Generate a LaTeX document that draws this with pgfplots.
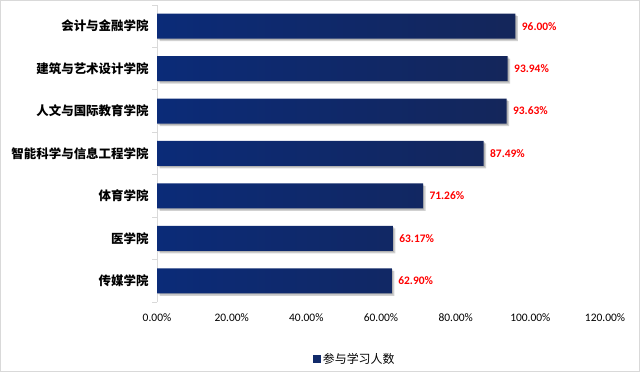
\documentclass[border=0pt]{standalone}
\usepackage{fontspec}
\usepackage{pgfplots}
\pgfplotsset{compat=1.18}
\setmainfont{Carlito}
\newfontfamily\cjk{Noto Sans CJK SC}
\definecolor{barL}{HTML}{0B2B78}
\definecolor{barR}{HTML}{14265A}
\definecolor{legnavy}{HTML}{112A6A}
\definecolor{bordergray}{HTML}{D9D9D9}
\begin{document}
\begin{tikzpicture}
\draw[draw=bordergray, line width=1bp] (0.5bp,0.5bp) rectangle (639.5bp,371.5bp);
\begin{axis}[
  at={(157bp,70bp)}, anchor=south west,
  scale only axis, width=448bp, height=297bp,
  xbar, bar width=25bp, bar shift=0pt,
  xmin=0, xmax=120, ymin=-0.5, ymax=6.5,
  xtick={0,20,...,120},
  ytick={0,...,6},
  yticklabels={传媒学院,医学院,体育学院,智能科学与信息工程学院,人文与国际教育学院,建筑与艺术设计学院,会计与金融学院},
  minor ytick={-0.5,0.5,...,6.5},
  major tick length=0pt, minor tick length=5bp, tick align=outside,
  tick style={draw=bordergray, line width=0.8bp},
  axis lines*=left,
  x axis line style={draw=none},
  y axis line style={draw=bordergray, line width=0.8bp},
  /pgf/number format/.cd, fixed, fixed zerofill, precision=2, assume math mode=true, /pgfplots/.cd,
  xticklabel={\pgfmathprintnumber{\tick}\%},
  xticklabel style={font=\fontsize{11.5}{13}\selectfont, text=black, yshift=-8bp},
  yticklabel style={font=\cjk\bfseries\fontsize{12.5}{14}\selectfont, anchor=east, xshift=-5bp},
  legend style={at={(0.442,-0.192)}, anchor=center, draw=none, font=\cjk\fontsize{12}{14}\selectfont},
]
% soft shadow under the bars
\addplot[draw=none, fill=black, fill opacity=0.18, bar shift=-2.5bp, xshift=2.5bp, forget plot]
  coordinates {(62.90,0) (63.17,1) (71.26,2) (87.49,3) (93.63,4) (93.94,5) (96.00,6)};
\addplot[draw=none, fill=black, fill opacity=0.15, bar shift=-1.2bp, xshift=1.2bp, forget plot]
  coordinates {(62.90,0) (63.17,1) (71.26,2) (87.49,3) (93.63,4) (93.94,5) (96.00,6)};
% bars
\addplot[draw=none, left color=barL, right color=barR, forget plot,
  nodes near coords={\pgfmathprintnumber{\pgfplotspointmeta}\%},
  point meta=x,
  nodes near coords style={font=\bfseries\fontsize{11.5}{13}\selectfont, text=red, anchor=west, xshift=3bp}]
  coordinates {(62.90,0) (63.17,1) (71.26,2) (87.49,3) (93.63,4) (93.94,5) (96.00,6)};
\addlegendimage{legend image code/.code={\fill[legnavy] (0bp,-3.5bp) rectangle (7bp,3.5bp);}}
\addlegendentry{参与学习人数}
\end{axis}
\end{tikzpicture}
\end{document}
